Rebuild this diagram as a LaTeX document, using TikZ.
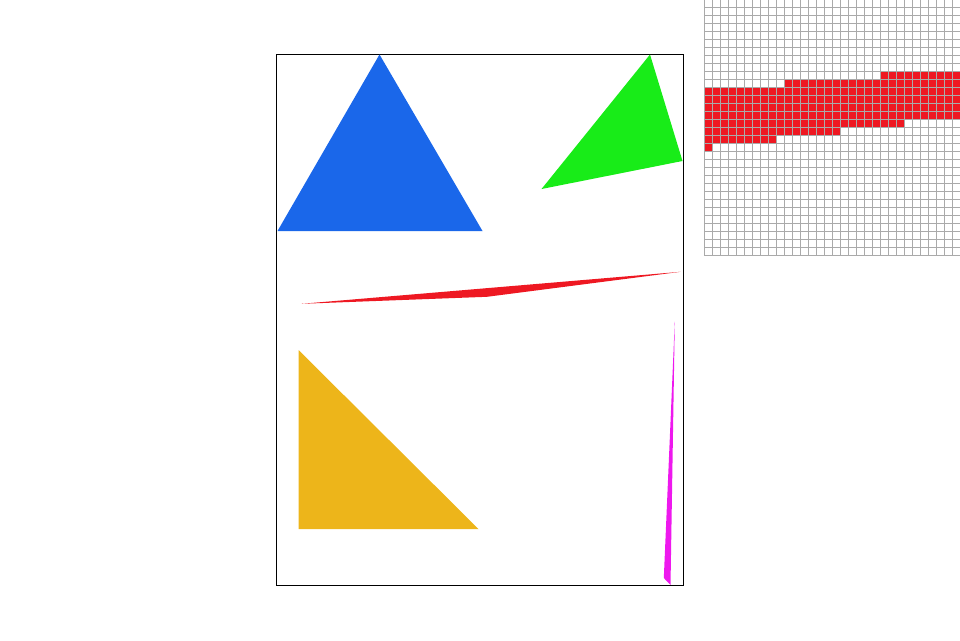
\documentclass[tikz,border=0pt]{standalone}
\usetikzlibrary{calc}
\definecolor{tblue}{HTML}{1A67EA}
\definecolor{tgreen}{HTML}{18EC18}
\definecolor{tred}{HTML}{EE1822}
\definecolor{tyellow}{HTML}{EDB51A}
\definecolor{tmagenta}{HTML}{EE18EE}
\definecolor{tgrid}{HTML}{AAAAAA}

\begin{document}
\begin{tikzpicture}[x=1pt, y=-1pt,
    gridline/.style={draw=tgrid, line width=1pt},
    frameline/.style={draw=black, line width=1pt}]
    \useasboundingbox (0,0) rectangle (960,640);
    % frame and triangles
    \draw[frameline] (276.5,54.5) rectangle (683.5,585);
    \fill[tblue] (379.5,54.5) -- (277.5,231) -- (482.5,231) -- cycle;
    \fill[tgreen] (650,54.5) -- (541.5,189) -- (682.5,161) -- cycle;
    \fill[tred] (301.5,303.8) -- (680.5,271.8) -- (487,296.8) -- cycle;
    \fill[tyellow] (298.5,350) -- (298.5,529) -- (478.5,529) -- cycle;
    \fill[tmagenta] (674.8,321.5) -- (670.5,585) -- (663.8,578) -- cycle;
    % zoomed pixels
    \foreach \ca/\cb/\ra/\rb in {0/0/11/18, 1/8/11/17, 9/9/11/16, 10/16/10/16,
                                 17/21/10/15, 22/24/9/15, 25/31/9/14}
      \fill[tred] ({704.3+8*\ca},{-0.7+8*\ra}) rectangle ({704.3+8*(\cb+1)},{-0.7+8*(\rb+1)});
    \foreach \i in {0,...,32}
      \draw[gridline] ({704.3+8*\i},0) -- ({704.3+8*\i},255.8);
    \foreach \j in {1,...,32}
      \draw[gridline] (703.8,{-0.7+8*\j}) -- (960,{-0.7+8*\j});
\end{tikzpicture}
\end{document}
